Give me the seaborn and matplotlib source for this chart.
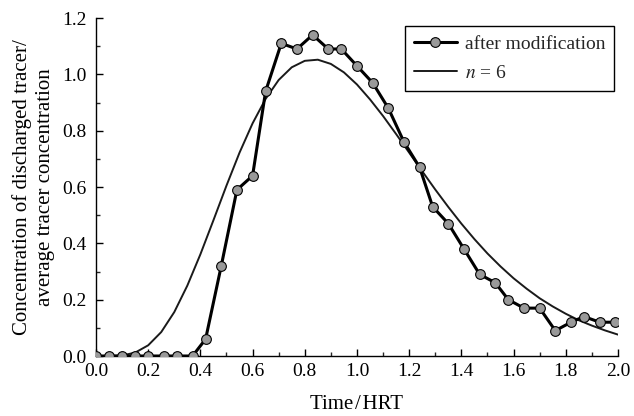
import matplotlib
matplotlib.use("Agg")
import matplotlib.pyplot as plt
import seaborn as sns
import pandas as pd
from matplotlib.ticker import MultipleLocator

# measured tracer response (after modification)
time_meas = [0.00, 0.05, 0.10, 0.15, 0.20, 0.26, 0.31, 0.37, 0.42, 0.48,
             0.54, 0.60, 0.65, 0.71, 0.77, 0.83, 0.89, 0.94, 1.00, 1.06,
             1.12, 1.18, 1.24, 1.29, 1.35, 1.41, 1.47, 1.53, 1.58, 1.64,
             1.70, 1.76, 1.82, 1.87, 1.93, 1.99]
conc_meas = [0.00, 0.00, 0.00, 0.00, 0.00, 0.00, 0.00, 0.00, 0.06, 0.32,
             0.59, 0.64, 0.94, 1.11, 1.09, 1.14, 1.09, 1.09, 1.03, 0.97,
             0.88, 0.76, 0.67, 0.53, 0.47, 0.38, 0.29, 0.26, 0.20, 0.17,
             0.17, 0.09, 0.12, 0.14, 0.12, 0.12]

# tanks-in-series curve (n = 6)
time_model = [0.00, 0.05, 0.10, 0.15, 0.20, 0.25, 0.30, 0.35, 0.40, 0.45,
              0.50, 0.55, 0.60, 0.65, 0.70, 0.75, 0.80, 0.85, 0.90, 0.95,
              1.00, 1.05, 1.10, 1.15, 1.20, 1.25, 1.30, 1.35, 1.40, 1.45,
              1.50, 1.55, 1.60, 1.65, 1.70, 1.75, 1.80, 1.85, 1.90, 1.95,
              2.00]
conc_model = [0.000, 0.000, 0.002, 0.012, 0.038, 0.085, 0.156, 0.250, 0.361, 0.482,
              0.605, 0.722, 0.826, 0.913, 0.980, 1.025, 1.048, 1.052, 1.037, 1.007,
              0.964, 0.911, 0.852, 0.788, 0.722, 0.656, 0.591, 0.529, 0.470, 0.415,
              0.364, 0.318, 0.276, 0.239, 0.205, 0.176, 0.150, 0.127, 0.108, 0.091,
              0.076]

meas = pd.DataFrame({"t": time_meas, "c": conc_meas})
model = pd.DataFrame({"t": time_model, "c": conc_model})

sns.set_theme(style="ticks")
plt.rcParams["font.family"] = ["Liberation Serif", "DejaVu Serif"]
plt.rcParams["mathtext.fontset"] = "stix"

fig = plt.figure(figsize=(6.34, 4.16), dpi=100)
ax = fig.add_axes([0.1514, 0.1442, 0.8233, 0.8125])

sns.lineplot(data=model, x="t", y="c", ax=ax, color="#1a1a1a", linewidth=1.4,
             label="$n$ = 6", zorder=2)
sns.lineplot(data=meas, x="t", y="c", ax=ax, color="black", linewidth=2.2,
             marker="o", markersize=7, markerfacecolor="#999999",
             markeredgecolor="black", markeredgewidth=0.8,
             label="after modification", zorder=3)

ax.set_xlim(0, 2.0)
ax.set_ylim(0, 1.2)
ax.xaxis.set_major_locator(MultipleLocator(0.2))
ax.xaxis.set_minor_locator(MultipleLocator(0.1))
ax.yaxis.set_major_locator(MultipleLocator(0.2))
ax.yaxis.set_minor_locator(MultipleLocator(0.1))
ax.xaxis.set_major_formatter(plt.FormatStrFormatter("%.1f"))
ax.yaxis.set_major_formatter(plt.FormatStrFormatter("%.1f"))
ax.tick_params(which="major", direction="in", length=5, width=1, labelsize=14,
               colors="black")
ax.tick_params(which="minor", direction="in", length=3, width=1)
ax.tick_params(axis="y", which="major", pad=7)
ax.tick_params(axis="x", which="major", pad=5)

for s in ["top", "right"]:
    ax.spines[s].set_visible(False)
for s in ["left", "bottom"]:
    ax.spines[s].set_color("black")
    ax.spines[s].set_linewidth(1)

ax.set_xlabel("Time\u200a/\u200aHRT", fontsize=15, color="black", labelpad=11)
ax.set_ylabel("Concentration of discharged tracer/\naverage tracer concentration",
              fontsize=15, color="black", labelpad=5, linespacing=1.25)

handles, labels = ax.get_legend_handles_labels()
leg = ax.legend(handles[::-1], labels[::-1], loc="upper right",
                bbox_to_anchor=(0.992, 0.975), borderaxespad=0, fontsize=14,
                frameon=True, fancybox=False, edgecolor="black",
                handlelength=2.2, handletextpad=0.4, labelspacing=0.6,
                borderpad=0.45)
leg.get_frame().set_linewidth(1)
leg.get_frame().set_alpha(1)

fig.savefig("out.png", dpi=100)
